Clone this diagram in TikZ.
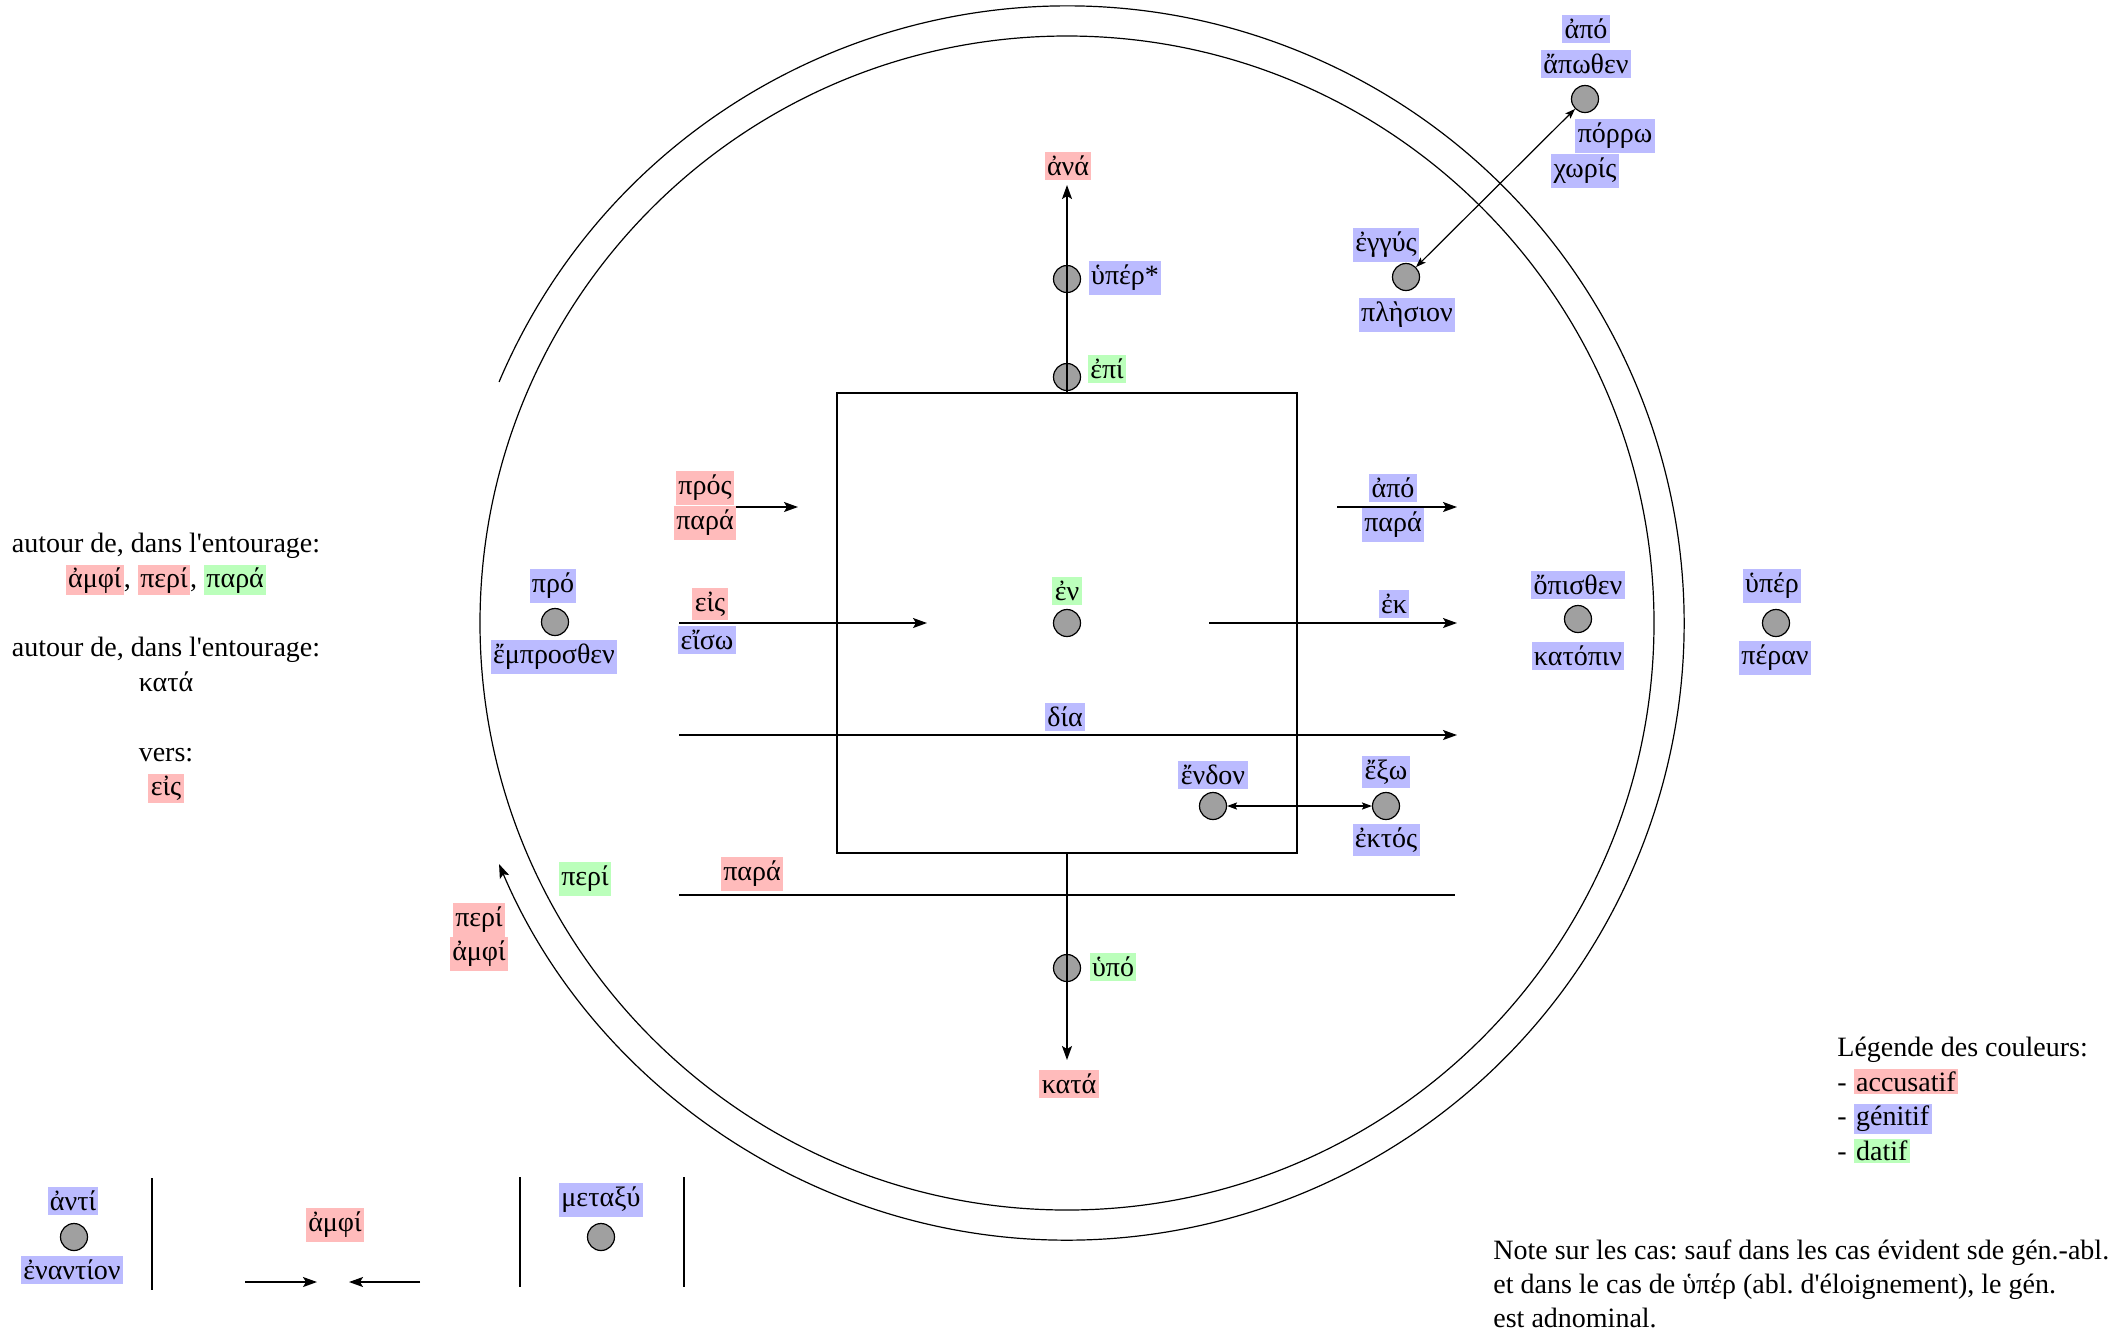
\documentclass[tikz,border=0pt]{standalone}
\usepackage{fontspec}
\setmainfont{Liberation Serif}[Ligatures=TeXOff]
\usetikzlibrary{arrows.meta}
\definecolor{accRed}{RGB}{255,187,187}
\definecolor{genBlue}{RGB}{187,187,255}
\definecolor{datGreen}{RGB}{187,255,187}
\definecolor{dotGray}{RGB}{160,160,160}
\newcommand\hlbox[2]{{\setlength{\fboxsep}{1.2pt}\colorbox{#1}{#2}}}
\frenchspacing

\begin{document}
\begin{tikzpicture}[x=0.5pt,y=-0.5pt,
  every node/.style={font=\fontsize{14}{17}\selectfont},
  lbl/.style={inner xsep=1.2pt, inner ysep=2pt},
  acc/.style={lbl, fill=accRed},
  gen/.style={lbl, fill=genBlue},
  dat/.style={lbl, fill=datGreen},
  dot/.style={circle, draw=black, fill=dotGray, line width=0.6pt, minimum size=13.5pt, inner sep=0pt},
  thinline/.style={line width=0.75pt},
  arr/.style={thinline, -{Stealth[length=7pt,width=5pt,inset=1.5pt]}},
  darr/.style={line width=0.6pt, {Stealth[length=5pt,width=3.6pt,inset=1pt]}-{Stealth[length=5pt,width=3.6pt,inset=1pt]}},
  note/.style={inner xsep=0pt, inner ysep=2pt},
]
\useasboundingbox (0,0) rectangle (2120,1330);

% the sphere of the reference object and the circling path
\coordinate (ctr) at (1067,623);
\draw[line width=0.6pt] (ctr) circle[radius=587];
\draw[line width=0.6pt, -{Stealth[length=7pt,width=5pt,inset=1.5pt]}]
  (ctr) ++(-157:617) arc[start angle=-157, end angle=157, radius=617];

% the object itself
\node[draw, line width=0.6pt, minimum size=230pt, inner sep=0pt] (box) at (ctr) {};

% vertical axis: above
\coordinate (upTip) at (1067,185);
\node[dot] (epiDot) at (1067,377) {};
\node[dot] (huperDot) at (1067,279) {};
\draw[arr] (box.north) -- (upTip);
\node[acc] (ana) at (1068,166) {ἀνά};
\node[gen] (huperStar) at (1125,278) {ὑπέρ*};
\node[dat] (epi) at (1107,369) {ἐπί};

% vertical axis: below
\coordinate (downTip) at (1067,1060);
\node[dot] (hupoDot) at (1067,968) {};
\draw[arr] (box.south) -- (downTip);
\node[dat] (hupo) at (1113,967) {ὑπό};
\node[acc] (kataDown) at (1069,1084) {κατά};

% inside
\node[dot] (enDot) at (ctr) {};
\node[dat] (en) at (1067,591) {ἐν};

% towards the object
\coordinate (prosA) at (679,507); \coordinate (prosB) at (798,507);
\draw[arr] (prosA) -- (prosB);
\node[acc] (pros) at (705,488) {πρός};
\node[acc] (paraAcc) at (705,523) {παρά};

% away from the object
\coordinate (apoA) at (1337,507); \coordinate (apoB) at (1457,507);
\draw[arr] (apoA) -- (apoB);
\node[gen] (apo) at (1393,488) {ἀπό};
\node[gen] (paraGen) at (1393,525) {παρά};

% into
\coordinate (eisA) at (679,623); \coordinate (eisB) at (927,623);
\draw[arr] (eisA) -- (eisB);
\node[acc] (eis) at (710,604) {εἰς};
\node[gen] (eiso) at (707,640) {εἴσω};

% out of
\coordinate (ekA) at (1209,623); \coordinate (ekB) at (1457,623);
\draw[arr] (ekA) -- (ekB);
\node[gen] (ek) at (1394,604) {ἐκ};

% through
\coordinate (diaA) at (679,735); \coordinate (diaB) at (1457,735);
\draw[arr] (diaA) -- (diaB);
\node[gen] (dia) at (1065,717) {δία};

% alongside
\coordinate (paraLineA) at (679,895); \coordinate (paraLineB) at (1455,895);
\draw[thinline] (paraLineA) -- (paraLineB);
\node[acc] (paraSide) at (752,874) {παρά};
\node[dat] (periDat) at (585,879) {περί};
\node[acc] (periAcc) at (479,920) {περί};
\node[acc] (amphiAcc) at (479,954) {ἀμφί};

% inside / outside
\node[dot] (endonDot) at (1213,806) {};
\node[dot] (exoDot) at (1386,806) {};
\draw[darr] (endonDot) -- (exoDot);
\node[gen] (endon) at (1213,775) {ἔνδον};
\node[gen] (exo) at (1386,772) {ἔξω};
\node[gen] (ektos) at (1386,840) {ἐκτός};

% in front, behind, beyond
\node[gen] (pro) at (553,586) {πρό};
\node[dot] (proDot) at (555,622) {};
\node[gen] (emprosthen) at (554,657) {ἔμπροσθεν};
\node[gen] (opisthen) at (1578,585) {ὄπισθεν};
\node[dot] (opisthenDot) at (1578,619) {};
\node[gen] (katopin) at (1578,656) {κατόπιν};
\node[gen] (huper) at (1772,586) {ὑπέρ};
\node[dot] (huperFarDot) at (1776,623) {};
\node[gen] (peran) at (1775,658) {πέραν};

% near and far
\node[gen] (apoFar) at (1586,29) {ἀπό};
\node[gen] (apothen) at (1586,64) {ἄπωθεν};
\node[dot] (farDot) at (1585,99) {};
\node[gen] (porro) at (1615,136) {πόρρω};
\node[gen] (choris) at (1585,171) {χωρίς};
\node[gen] (engus) at (1386,245) {ἐγγύς};
\node[dot] (nearDot) at (1406,277) {};
\node[gen] (plesion) at (1407,315) {πλὴσιον};
\draw[darr] (nearDot) -- (farDot);

% facing, around, between
\node[gen] (anti) at (73,1201) {ἀντί};
\node[dot] (antiDot) at (74,1237) {};
\node[gen] (enantion) at (72,1270) {ἐναντίον};
\coordinate (sepA1) at (152,1178); \coordinate (sepA2) at (152,1290);
\coordinate (sepB1) at (520,1177); \coordinate (sepB2) at (520,1287);
\coordinate (sepC1) at (684,1177); \coordinate (sepC2) at (684,1287);
\draw[thinline] (sepA1) -- (sepA2);
\draw[thinline] (sepB1) -- (sepB2);
\draw[thinline] (sepC1) -- (sepC2);
\node[acc] (amphiBoth) at (335,1225) {ἀμφί};
\coordinate (inLA) at (245,1282); \coordinate (inLB) at (317,1282);
\coordinate (inRA) at (420,1282); \coordinate (inRB) at (349,1282);
\draw[arr] (inLA) -- (inLB);
\draw[arr] (inRA) -- (inRB);
\node[gen] (metaxu) at (601,1200) {μεταξύ};
\node[dot] (metaxuDot) at (601,1237) {};

% side notes
\node[note, align=center, font=\fontsize{14}{17.4}\selectfont] (aroundNote) at (166,668) {%
  autour de, dans l'entourage:\\
  \hlbox{accRed}{ἀμφί}, \hlbox{accRed}{περί}, \hlbox{datGreen}{παρά}\\[17.4pt]
  autour de, dans l'entourage:\\
  κατά\\[17.4pt]
  vers:\\
  \hlbox{accRed}{εἰς}};

\node[note, align=left, anchor=west, font=\fontsize{14}{17.4}\selectfont] (legend) at (1837,1100) {%
  Légende des couleurs:\\
  - \hlbox{accRed}{accusatif}\\
  - \hlbox{genBlue}{génitif}\\
  - \hlbox{datGreen}{datif}};

\node[note, align=left, anchor=west] (caseNote) at (1493,1284) {%
  Note sur les cas: sauf dans les cas évident sde gén.-abl.\\
  et dans le cas de ὑπέρ (abl. d'éloignement), le gén.\\
  est adnominal.};
\end{tikzpicture}
\end{document}
